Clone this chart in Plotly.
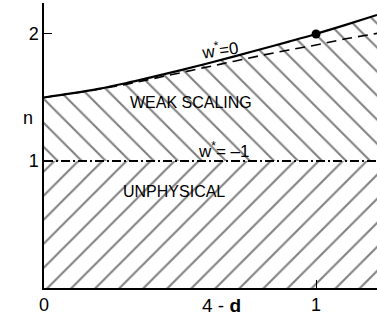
import plotly.graph_objects as go

# 4-d values along the curves
x_vals = [0, 0.1, 0.2, 0.3, 0.4, 0.5, 0.6, 0.7, 0.8, 0.9, 1.0, 1.1, 1.224]
# n along the w* = 0 line (solid)
n_w0 = [1.50, 1.532, 1.568, 1.612, 1.662, 1.714, 1.768, 1.824, 1.882, 1.94, 2.0, 2.066, 2.15]
# n along the dashed line
n_dashed = [1.50, 1.531, 1.565, 1.603, 1.648, 1.694, 1.740, 1.786, 1.832, 1.874, 1.913, 1.958, 2.005]
# w* = -1 line
x_line = [0, 1.224]
n_wm1 = [1, 1]
# marked point
x_dot = [1.0]
n_dot = [2.0]

x_ticks = [0, 1]
x_ticktext = ["0", "1"]
y_ticks = [1, 2]
y_ticktext = ["1", "2"]

FONT = "Liberation Sans"

fig = go.Figure()

# lower hatched region (UNPHYSICAL)
fig.add_trace(go.Scatter(
    x=x_line, y=n_wm1, mode="lines", line=dict(width=0, color="black"),
    fill="tozeroy", fillcolor="rgba(0,0,0,0)",
    fillpattern=dict(shape="/", size=17, solidity=0.12, fgcolor="black", bgcolor="white"),
    hoverinfo="skip", showlegend=False))

# upper hatched region (WEAK SCALING)
fig.add_trace(go.Scatter(
    x=x_vals, y=n_w0, mode="lines", line=dict(width=0, color="black", shape="spline"),
    fill="tonexty", fillcolor="rgba(0,0,0,0)",
    fillpattern=dict(shape="\\", size=17, solidity=0.12, fgcolor="black", bgcolor="white"),
    hoverinfo="skip", showlegend=False))

# w* = -1 dash-dot line
fig.add_trace(go.Scatter(
    x=x_line, y=n_wm1, mode="lines",
    line=dict(color="black", width=2, dash="9px,3px,2px,3px"),
    showlegend=False))

# dashed curve
fig.add_trace(go.Scatter(
    x=x_vals, y=n_dashed, mode="lines",
    line=dict(color="black", width=1.6, dash="10px,6px", shape="spline"),
    showlegend=False))

# solid w* = 0 curve
fig.add_trace(go.Scatter(
    x=x_vals, y=n_w0, mode="lines",
    line=dict(color="black", width=2.2, shape="spline"),
    showlegend=False))

# dot
fig.add_trace(go.Scatter(
    x=x_dot, y=n_dot, mode="markers",
    marker=dict(color="black", size=9),
    showlegend=False, cliponaxis=False))

fig.update_layout(
    width=377, height=333,
    margin=dict(l=44, r=0, t=3, b=45),
    paper_bgcolor="white", plot_bgcolor="white",
    font=dict(family=FONT, color="black"),
    xaxis=dict(range=[0, 1.224], tickvals=x_ticks, ticktext=x_ticktext,
               ticks="inside", ticklen=8, tickwidth=1.2, tickcolor="black",
               showline=True, linecolor="black", linewidth=1.5,
               showgrid=False, zeroline=False, automargin=False,
               tickfont=dict(size=18, family=FONT)),
    yaxis=dict(range=[0, 2.244], tickvals=y_ticks, ticktext=y_ticktext,
               ticks="inside", ticklen=8, tickwidth=1.2, tickcolor="black",
               showline=True, linecolor="black", linewidth=1.5,
               showgrid=False, zeroline=False, automargin=False,
               tickfont=dict(size=18, family=FONT)),
)

ann_font = dict(family=FONT, size=16, color="black")
w_font = dict(family=FONT, size=17, color="black")
annotations = [
    dict(x=0.54, y=1.457, text="WEAK SCALING", xref="x", yref="y", font=ann_font),
    dict(x=0.478, y=0.756, text="UNPHYSICAL", xref="x", yref="y", font=ann_font),
    dict(x=0.645, y=1.885, text="w<sup>*</sup>=0", xref="x", yref="y",
         font=w_font, textangle=-8),
    dict(x=0.658, y=1.09, text="w<sup>*</sup>= –1", xref="x", yref="y", font=w_font),
    dict(x=0.654, y=-0.105, text="4 - <b>d</b>", xref="x", yref="paper",
         font=dict(family=FONT, size=19, color="black")),
    dict(x=-0.07, y=0.597, text="n", xref="paper", yref="paper",
         font=dict(family=FONT, size=18, color="black")),
]
for a in annotations:
    a["showarrow"] = False
    fig.add_annotation(**a)

fig.write_html("out.html",
               config={"displayModeBar": False},
               post_script="document.body.style.margin='0';document.body.style.overflow='hidden';")
